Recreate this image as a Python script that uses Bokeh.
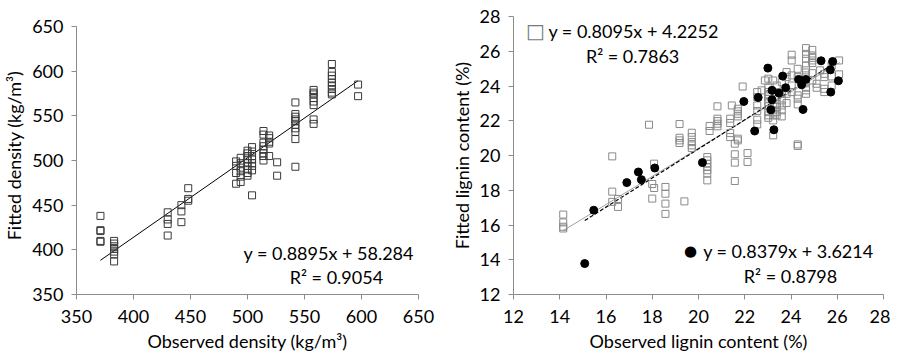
from bokeh.plotting import figure
from bokeh.layouts import row
from bokeh.models import FixedTicker, Label
from bokeh.embed import file_html
from bokeh.resources import INLINE

# ---------------- Density panel data ----------------
dens_obs_groups = [371, 383, 430, 442, 448, 490, 494, 500, 504, 514, 519, 526, 542, 558, 574, 597]
dens_fit_groups = [
    [438, 422, 421, 410, 409],
    [410, 407, 404, 401, 398, 395, 387],
    [442, 434, 429, 416],
    [450, 443, 431],
    [469, 457, 455],
    [499, 494, 486, 474],
    [503, 497, 492, 488, 482, 476],
    [511, 508, 505, 501, 497, 494, 490, 486, 483],
    [515, 510, 505, 501, 497, 494, 489, 461],
    [533, 529, 520, 516, 512, 508, 505, 500],
    [528, 525, 521, 519, 505],
    [498, 483],
    [565, 552, 549, 546, 544, 540, 536, 532, 524, 493],
    [579, 576, 574, 570, 566, 562, 546, 541],
    [608, 599, 595, 591, 587, 584, 580, 576, 574],
    [585, 572],
]
dens_slope, dens_icpt = 0.8895, 58.284
dens_line_x = [371, 597]
dens_ticks = [350, 400, 450, 500, 550, 600, 650]

# ---------------- Lignin panel data ----------------
lig_sq_x = [14.15, 16.27, 16.52, 17.86, 18.0, 18.08, 18.57, 19.18, 19.39, 19.71, 20.38, 20.48,
            20.82, 21.37, 21.44, 21.57, 21.7, 21.91, 22.12, 22.54, 22.73, 22.87, 23.02, 23.23,
            23.38, 23.6, 23.81, 24.03, 24.29, 24.65, 24.92, 25.11, 25.26, 25.44, 25.76, 26.08]
lig_sq_y = [
    [16.6, 16.15, 15.9, 15.8],
    [19.95, 17.92, 17.33],
    [17.5, 17.04],
    [21.77],
    [18.36, 17.52],
    [19.53, 18.13],
    [18.19, 17.8, 17.23, 16.64],
    [21.81, 21.02, 20.87, 20.72],
    [17.36],
    [21.31, 21.06, 20.77, 20.58, 20.43],
    [19.91, 19.72, 19.53, 19.34, 19.15, 18.96, 18.57],
    [21.7, 21.41],
    [22.83, 22.12, 21.98, 21.83, 21.68],
    [22.12, 21.87, 21.29, 21.06],
    [22.88],
    [20.68, 20.07, 19.59, 18.53],
    [22.69, 22.54, 22.4, 22.25, 20.97, 20.87],
    [23.97],
    [20.14, 19.63],
    [23.65, 23.36, 22.88, 22.56, 22.06, 21.79],
    [23.75],
    [24.32],
    [24.42, 23.9, 23.65, 23.52, 23.4, 23.27, 23.08, 22.83, 22.5, 22.31, 22.17],
    [24.32, 22.98, 22.6, 22.31, 22.02, 21.16],
    [24.03, 23.65, 23.36, 22.98, 22.79, 22.5, 22.31],
    [24.22, 23.55, 23.17, 22.88, 22.6, 22.25],
    [24.8, 24.51, 23.55, 23.02],
    [25.8, 25.47, 24.61, 24.03, 23.65],
    [24.99, 24.51, 23.46, 23.27, 22.94, 20.64, 20.55],
    [26.18, 25.85, 25.57, 25.18, 24.9, 24.61, 24.22, 23.9, 23.75, 23.55],
    [26.08, 25.76, 25.62, 25.47, 25.32, 24.74, 24.32],
    [24.13, 23.9],
    [24.9],
    [24.7, 24.51, 23.84, 23.65],
    [25.18, 24.55, 24.03],
    [25.47, 24.67],
]
lig_ci_x = [15.08, 15.47, 16.9, 17.4, 17.53, 18.11, 20.17, 21.96, 22.43, 22.58, 23.0, 23.13, 23.18,
            23.18, 23.26, 23.48, 23.64, 23.77, 24.33, 24.46, 24.52, 24.64, 25.3, 25.7, 25.8, 25.72, 26.05]
lig_ci_y = [13.78, 16.85, 18.44, 19.05, 18.61, 19.28, 19.59, 23.11, 21.41, 23.34, 25.03, 22.63, 23.75,
            23.21, 21.48, 23.59, 24.57, 23.9, 24.38, 24.07, 22.65, 24.38, 25.45, 24.93, 25.41, 23.65, 24.3]
sq_slope, sq_icpt = 0.8095, 4.2252
ci_slope, ci_icpt = 0.8379, 3.6214
sq_line_x = [14.15, 26.1]
ci_line_x = [15.08, 26.05]
lig_ticks = [12, 14, 16, 18, 20, 22, 24, 26, 28]

FONT = "Lato"
FS = "18px"
AXIS_GREY = "#8c8c8c"


def flatten(xs, ys_groups):
    fx, fy = [], []
    for x, ys in zip(xs, ys_groups):
        for y in ys:
            fx.append(x)
            fy.append(y)
    return fx, fy


def style(p, ticks_x, ticks_y, xlabel, ylabel):
    p.xaxis.ticker = FixedTicker(ticks=ticks_x)
    p.yaxis.ticker = FixedTicker(ticks=ticks_y)
    p.xaxis.axis_label = xlabel
    p.yaxis.axis_label = ylabel
    p.xgrid.visible = False
    p.ygrid.visible = False
    p.outline_line_color = None
    for ax in (p.xaxis, p.yaxis):
        ax.axis_line_color = AXIS_GREY
        ax.major_tick_line_color = AXIS_GREY
        ax.minor_tick_line_color = None
        ax.major_tick_out = 5
        ax.major_tick_in = 0
        ax.major_label_text_font = FONT
        ax.major_label_text_font_size = FS
        ax.major_label_text_color = "black"
        ax.axis_label_text_font = FONT
        ax.axis_label_text_font_size = FS
        ax.axis_label_text_font_style = "normal"
        ax.axis_label_text_color = "black"
    p.yaxis.major_label_standoff = 8
    p.xaxis.major_label_standoff = 10
    p.yaxis.axis_label_standoff = 4
    p.xaxis.axis_label_standoff = 4


# ---------------- Left figure ----------------
# both frames share the same pixel top/height; the density axis is bounded to 350-650
p1 = figure(title=None, frame_width=342, frame_height=278, x_range=(350, 650), y_range=(350, 661.2),
            output_backend="svg", toolbar_location=None,
            min_border_left=69, min_border_right=29, min_border_top=16, min_border_bottom=55)
style(p1, dens_ticks, dens_ticks, "Observed density (kg/m\u00b3)", "Fitted density (kg/m\u00b3)")
p1.yaxis.bounds = (350, 650)
dx, dy = flatten(dens_obs_groups, dens_fit_groups)
p1.line(dens_line_x, [dens_slope * x + dens_icpt for x in dens_line_x], line_color="black", line_width=1)
p1.scatter(dx, dy, marker="square", size=7, fill_color="white", fill_alpha=0.0,
           line_color="#3a3a3a", line_width=1)
p1.add_layout(Label(x=646, y=397, text="y = 0.8895x + 58.284", text_align="right", text_baseline="middle",
                    text_font=FONT, text_font_size=FS, text_color="black"))
p1.add_layout(Label(x=578, y=370, text="R\u00b2 = 0.9054", text_align="center", text_baseline="middle",
                    text_font=FONT, text_font_size=FS, text_color="black"))

# ---------------- Right figure ----------------
p2 = figure(title=None, frame_width=370, frame_height=278, x_range=(12, 28), y_range=(12, 28),
            output_backend="svg", toolbar_location=None,
            min_border_left=63, min_border_right=7, min_border_top=16, min_border_bottom=55)
style(p2, lig_ticks, lig_ticks, "Observed lignin content (%)", "Fitted lignin content (%)")
sx, sy = flatten(lig_sq_x, lig_sq_y)
p2.line(sq_line_x, [sq_slope * x + sq_icpt for x in sq_line_x], line_color="#a0a0a0", line_width=1)
p2.line(ci_line_x, [ci_slope * x + ci_icpt for x in ci_line_x], line_color="black", line_width=1.2,
        line_dash="4 2")
p2.scatter(sx, sy, marker="square", size=7, fill_color="white", fill_alpha=0.0,
           line_color="#8a8a8a", line_width=1)
p2.scatter(lig_ci_x, lig_ci_y, marker="circle", size=8, fill_color="black", line_color="black")

p2.add_layout(Label(x=12.95, y=27.14, text="\u25a1", text_align="center", text_baseline="middle",
                    text_font="DejaVu Sans", text_font_size="20px", text_color="#7a7a7a"))
p2.add_layout(Label(x=13.51, y=27.14, text="y = 0.8095x + 4.2252", text_align="left", text_baseline="middle",
                    text_font=FONT, text_font_size=FS, text_color="black"))
p2.add_layout(Label(x=17.15, y=25.70, text="R\u00b2 = 0.7863", text_align="center", text_baseline="middle",
                    text_font=FONT, text_font_size=FS, text_color="black"))
p2.add_layout(Label(x=19.66, y=14.5, text="\u25cf", text_align="center", text_baseline="middle",
                    text_font="DejaVu Sans", text_font_size="15px", text_color="black"))
p2.add_layout(Label(x=20.2, y=14.5, text="y = 0.8379x + 3.6214", text_align="left", text_baseline="middle",
                    text_font=FONT, text_font_size=FS, text_color="black"))
p2.add_layout(Label(x=23.98, y=13.04, text="R\u00b2 = 0.8798", text_align="center", text_baseline="middle",
                    text_font=FONT, text_font_size=FS, text_color="black"))

layout = row(p1, p2)
open("out.html", "w").write(file_html(layout, INLINE))
